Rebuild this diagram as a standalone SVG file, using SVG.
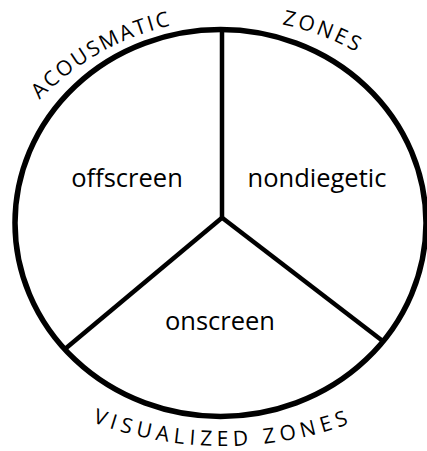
<svg xmlns="http://www.w3.org/2000/svg" xmlns:xlink="http://www.w3.org/1999/xlink" width="427" height="451" viewBox="0 0 427 451">
  <style>
    .rim { fill: none; stroke: #000; stroke-width: 5.5; }
    .spoke { fill: none; stroke: #000; stroke-width: 4.5; stroke-linecap: butt; }
    .lbl { font-family: "Open Sans", "Liberation Sans", sans-serif; font-size: 25.5px; fill: #000; text-anchor: middle; }
    .arc { font-family: "Open Sans", "Liberation Sans", sans-serif; font-size: 21px; fill: #000; }
  </style>
  <defs>
    <path id="topPath" d="M -33 281 A 262 262 0 0 1 491 281"/>
    <path id="botPath" d="M -147 76 A 370 370 0 0 0 593 76"/>
  </defs>
  <rect width="427" height="451" fill="#fff"/>
  <g id="circle">
    <ellipse class="rim" cx="220.5" cy="223" rx="205.5" ry="193.5"/>
  </g>
  <g id="connectors">
    <line class="spoke" x1="222" y1="29" x2="222" y2="218"/>
    <line class="spoke" x1="223.5" y1="216.5" x2="65" y2="349"/>
    <line class="spoke" x1="220.5" y1="216.5" x2="384" y2="342"/>
  </g>
  <g id="offscreen">
    <text class="lbl" x="127" y="187">offscreen</text>
  </g>
  <g id="nondiegetic">
    <text class="lbl" x="317" y="187">nondiegetic</text>
  </g>
  <g id="onscreen">
    <text class="lbl" x="220" y="330">onscreen</text>
  </g>
  <g id="zone-labels">
    <text class="arc" letter-spacing="2.2"><textPath xlink:href="#topPath" href="#topPath" startOffset="24.3%">ACOUSMATIC</textPath></text>
    <text class="arc" letter-spacing="3"><textPath xlink:href="#topPath" href="#topPath" startOffset="56.5%">ZONES</textPath></text>
    <text class="arc" letter-spacing="5"><textPath xlink:href="#botPath" href="#botPath" startOffset="38.5%">VISUALIZED ZONES</textPath></text>
  </g>
</svg>
